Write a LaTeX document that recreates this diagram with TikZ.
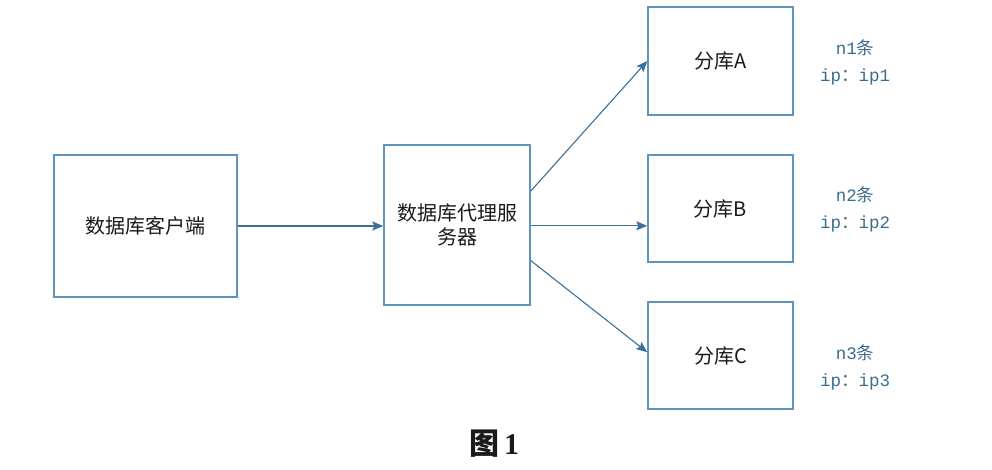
\documentclass[tikz,border=0pt]{standalone}
\usepackage{fontspec}
\newfontfamily\cjk{Noto Sans CJK SC}
\newfontfamily\lmono{Liberation Mono}
\newfontfamily\lserif{Liberation Serif}
\usetikzlibrary{arrows.meta,calc}
\definecolor{boxc}{HTML}{5E95BE}
\definecolor{arrc}{HTML}{3F6F96}
\definecolor{labc}{HTML}{3A6D8C}
\definecolor{txtc}{HTML}{1A1A1A}
\tikzset{
  box/.style={draw=boxc, line width=1.4pt, fill=white, inner sep=0pt, align=center, text=txtc, font=\cjk\fontsize{20}{24}\selectfont},
  conn/.style={draw=arrc, line width=1.1pt, -{Stealth[length=11pt,width=9pt,inset=2pt]}},
  lab/.style={text=labc, align=center, font=\lmono\fontsize{17.5}{27}\selectfont}
}
\begin{document}
\begin{tikzpicture}[x=1pt,y=-1pt]
\useasboundingbox (0,0) rectangle (992,469);
\node[box, minimum width=183pt, minimum height=142pt] (client) at (145.5,226) {数据库客户端};
\node[box, minimum width=146pt, minimum height=160pt] (proxy) at (457,225) {};
\node[text=txtc, font=\cjk\fontsize{20}{24}\selectfont, align=center] (ptext) at (457,225) {数据库代理服\\务器};
\node[box, minimum width=145pt, minimum height=108pt] (A) at (720.5,61) {分库A};
\node[box, minimum width=145pt, minimum height=107pt] (B) at (720.5,208.5) {分库B};
\node[box, minimum width=145pt, minimum height=107pt] (C) at (720.5,355.5) {分库C};
\node[lab] (la) at (855,62) {n1{\cjk 条}\\ip{\cjk ：}ip1};
\node[lab] (lb) at (855,209) {n2{\cjk 条}\\ip{\cjk ：}ip2};
\node[lab] (lc) at (855,367) {n3{\cjk 条}\\ip{\cjk ：}ip3};
\node[text=txtc, font=\fontsize{30}{32}\selectfont] (cap) at (494,444) {{\cjk\bfseries 图}\,{\lserif\bfseries 1}};
\coordinate (pa) at ($(proxy.north east)!0.29!(proxy.south east)$);
\coordinate (pc) at ($(proxy.north east)!0.72!(proxy.south east)$);
\coordinate (bin) at ($(B.north west)!0.66!(B.south west)$);
\coordinate (pb) at (proxy.east |- bin);
\coordinate (cin) at ($(C.north west)!0.47!(C.south west)$);
\draw[conn] (client.east) -- (client.east -| proxy.west);
\draw[conn] (pa) -- (A.west);
\draw[conn] (pb) -- (bin);
\draw[conn] (pc) -- (cin);
\end{tikzpicture}
\end{document}
